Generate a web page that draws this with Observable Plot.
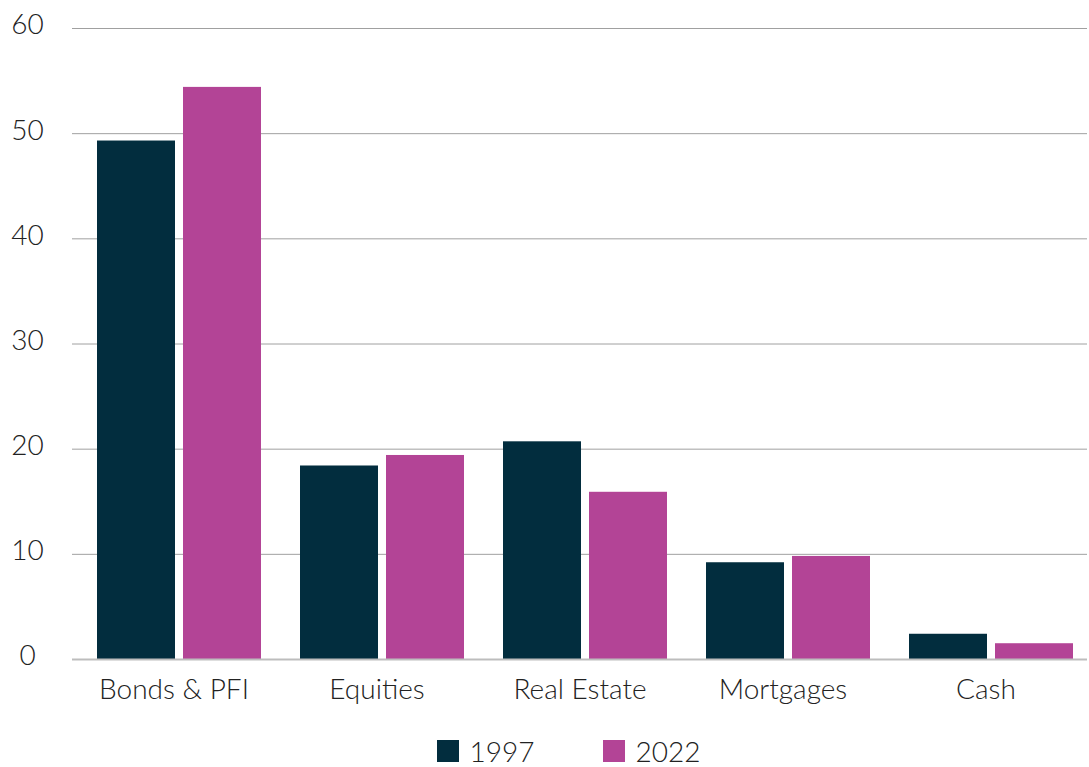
<!DOCTYPE html>
<html><head><meta charset="utf-8">
<script src="https://cdn.jsdelivr.net/npm/d3@7"></script>
<script src="https://cdn.jsdelivr.net/npm/@observablehq/plot@0.6"></script>
<style>
body{margin:0;background:#fff;font-family:Lato,sans-serif;font-weight:300;color:#222;}
#legend{display:flex;justify-content:center;padding-left:48px;gap:68px;margin-top:7px;font-size:28px;line-height:28px;}
#legend .item{display:flex;align-items:center;gap:11px;}
#legend .sw{width:22px;height:22px;display:inline-block;}
</style></head><body>
<div id="chart"></div>
<div id="legend"></div>
<script>
const categories = ["Bonds & PFI","Equities","Real Estate","Mortgages","Cash"];
const years = ["1997","2022"];
const values1997 = [49.3,18.4,20.7,9.2,2.4];
const values2022 = [54.4,19.4,15.9,9.8,1.5];
const colors = ["#022d3e","#b34496"];
const yTicks = [0,10,20,30,40,50,60];

const data = categories.flatMap((c,i)=>[
  {category:c,year:years[0],value:values1997[i]},
  {category:c,year:years[1],value:values2022[i]}
]);

const plot = Plot.plot({
  width:1089, height:730, marginTop:28, marginLeft:70, marginRight:0, marginBottom:71,
  style:{fontFamily:"Lato, sans-serif", fontSize:"28px", fontWeight:300, color:"#222", background:"#fff", overflow:"visible"},
  fx:{domain:categories, padding:0, label:null, axis:null},
  x:{domain:years, paddingInner:0.093, paddingOuter:0.22, align:0.65, axis:null},
  y:{domain:[0,60], label:null},
  color:{domain:years, range:colors},
  marks:[
    Plot.gridY(yTicks,{stroke:"#a0a0a0", strokeOpacity:1}),
    Plot.axisY(yTicks,{tickSize:0, tickPadding:45, textAnchor:"middle", dy:-3, label:null}),
    Plot.axisFx({anchor:"bottom", tickSize:0, tickPadding:20, label:null}),
    Plot.barY(data,{fx:"category", x:"year", y:"value", fill:"year"}),
    Plot.ruleY([0],{stroke:"#bdbdbd", strokeWidth:2})
  ]
});
document.getElementById("chart").appendChild(plot);

const legend = document.getElementById("legend");
years.forEach((y,i)=>{
  const item = document.createElement("div"); item.className="item";
  const sw = document.createElement("span"); sw.className="sw"; sw.style.background=colors[i];
  const t = document.createElement("span"); t.textContent=y;
  item.appendChild(sw); item.appendChild(t); legend.appendChild(item);
});
</script>
</body></html>
